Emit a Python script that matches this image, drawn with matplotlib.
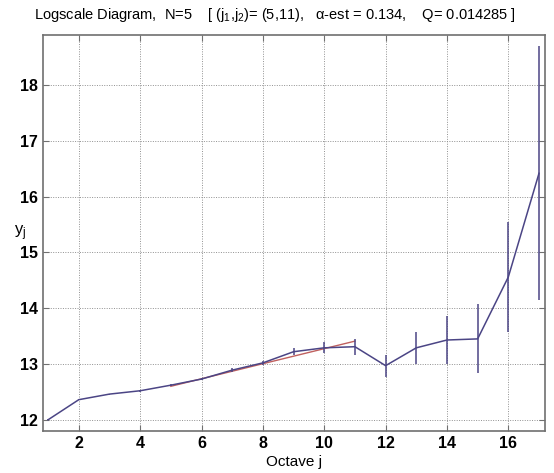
import numpy as np
import matplotlib.pyplot as plt

plt.rcParams['font.family'] = ['Liberation Sans', 'DejaVu Sans']
plt.rcParams['mathtext.fontset'] = 'custom'
plt.rcParams['mathtext.rm'] = 'Liberation Sans'
plt.rcParams['mathtext.it'] = 'Liberation Sans'

# octaves and log-scale estimates
octave = [1, 2, 3, 4, 5, 6, 7, 8, 9, 10, 11, 12, 13, 14, 15, 16, 17]
yj = [12.00, 12.36, 12.46, 12.52, 12.62, 12.73, 12.89, 13.02, 13.22, 13.29,
      13.31, 12.97, 13.29, 13.43, 13.45, 14.56, 16.42]
yerr = [0.005, 0.01, 0.01, 0.015, 0.02, 0.025, 0.03, 0.04, 0.06, 0.10,
        0.14, 0.20, 0.29, 0.43, 0.62, 0.98, 2.28]

# regression line over (j1, j2) = (5, 11)
fit_j = [5, 11]
fit_y = [12.60, 13.41]

line_col = '#4b4585'
fit_col = '#c0605e'

fig = plt.figure(figsize=(5.54, 4.73), dpi=100)
ax = fig.add_axes([0.078, 0.089, 0.906, 0.837])

ax.plot(fit_j, fit_y, color=fit_col, lw=1.0, zorder=2)
ax.errorbar(octave, yj, yerr=yerr, color=line_col, lw=1.1, elinewidth=1.1,
            capsize=0, zorder=3)

ax.set_xlim(0.84, 17.2)
ax.set_ylim(11.8, 18.9)
ax.set_xticks(range(2, 17, 2))
ax.set_yticks(range(12, 19))
ax.grid(True, linestyle=(0, (1, 1.5)), color='#909090', lw=0.7)
ax.tick_params(direction='in', top=True, right=True, labelsize=11.5, length=4,
               color='#707070')
for lab in ax.get_xticklabels() + ax.get_yticklabels():
    lab.set_fontweight('bold')
for s in ax.spines.values():
    s.set_color('#707070')
    s.set_linewidth(1.2)

ax.set_xlabel('Octave j', fontsize=11, labelpad=3)
ax.set_ylabel(r'y$_\mathregular{j}$', fontsize=12, rotation=0, va='center')
ax.yaxis.set_label_coords(-0.045, 0.5)

fig.text(0.497, 0.968,
         r'Logscale Diagram,  N=5    [ (j$_\mathregular{1}$,j$_\mathregular{2}$)= (5,11),   '
         r'$\alpha$-est = 0.134,    Q= 0.014285 ]',
         ha='center', va='center', fontsize=10.5)

fig.savefig('out.png', dpi=100)
